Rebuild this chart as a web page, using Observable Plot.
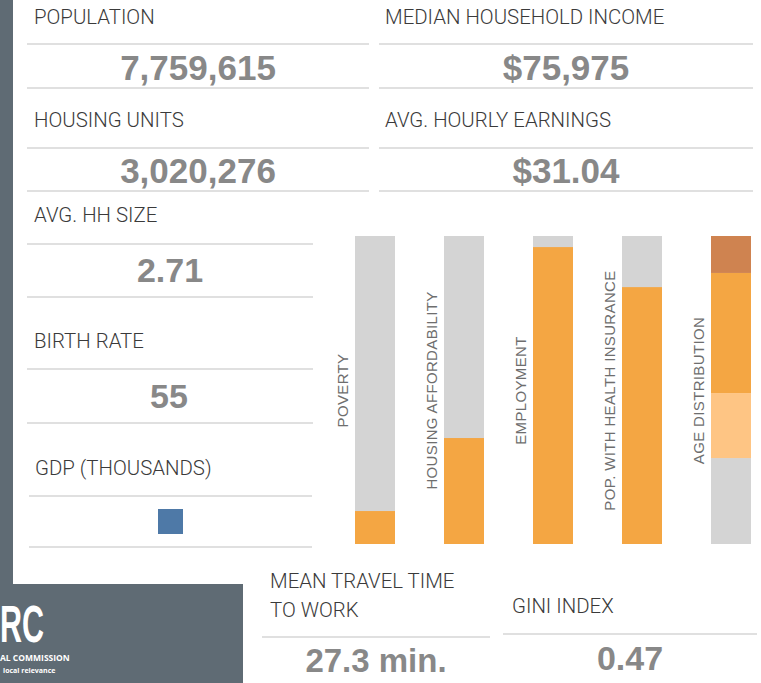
<!DOCTYPE html>
<html>
<head>
<meta charset="utf-8">
<script src="https://cdn.jsdelivr.net/npm/d3@7"></script>
<script src="https://cdn.jsdelivr.net/npm/@observablehq/plot@0.6"></script>
<style>
  body { margin: 0; background: #fff; }
  #dash { position: relative; width: 761px; height: 683px; overflow: hidden; background: #fff; }
  #dash > svg, #dash > div { position: absolute; }
</style>
</head>
<body>
<div id="dash"></div>
<script>
// ---------- data ----------
const kpiLabels = ["POPULATION", "MEDIAN HOUSEHOLD INCOME", "HOUSING UNITS", "AVG. HOURLY EARNINGS",
                   "AVG. HH SIZE", "BIRTH RATE", "GDP (THOUSANDS)", "MEAN TRAVEL TIME\nTO WORK", "GINI INDEX"];
const kpiValues = ["7,759,615", "$75,975", "3,020,276", "$31.04", "2.71", "55", null, "27.3 min.", "0.47"];
const gdpMarker = [1];

const indicators = ["POVERTY", "HOUSING AFFORDABILITY", "EMPLOYMENT", "POP. WITH HEALTH INSURANCE"];
const indicatorShares = [0.107, 0.344, 0.964, 0.834];

const ageCategory = "AGE DISTRIBUTION";
const ageBands = ["0–19", "20–34", "35–64", "65+"];
const ageShares = [0.279, 0.211, 0.390, 0.120];

const logoLines = ["RC", "AL COMMISSION", "local relevance"];

// ---------- styles (kept apart from data) ----------
const C = {
  panel: "#5f6b74", rule: "#d6d6d6", label: "#3a3a3a", value: "#888888",
  gray: "#d4d4d4", orange: "#f4a643", ageColors: ["#d4d4d4", "#fec584", "#f4a643", "#cf8350"], blue: "#4e79a7"
};
const labelFont = "'Roboto', sans-serif";
const valueFont = "'Liberation Sans', Arial, sans-serif";

const dash = d3.select("#dash");

// ---------- static layout (panel, rules, KPI text) ----------
const svg = dash.append("svg").attr("width", 761).attr("height", 683).style("left", 0).style("top", 0);

svg.append("rect").attr("x", 0).attr("y", 0).attr("width", 13).attr("height", 585).attr("fill", C.panel);
svg.append("rect").attr("x", 0).attr("y", 584).attr("width", 243).attr("height", 99).attr("fill", C.panel);
svg.append("text").text(logoLines[0]).attr("x", 0).attr("y", 642)
  .attr("font-family", valueFont).attr("font-weight", "bold").attr("font-size", 51)
  .attr("textLength", 44).attr("lengthAdjust", "spacingAndGlyphs").attr("fill", "#fff");
svg.append("text").text(logoLines[1]).attr("x", 0).attr("y", 661)
  .attr("font-family", "'Open Sans', sans-serif").attr("font-weight", "bold").attr("font-size", 8.5)
  .attr("fill", "#fff");
svg.append("text").text(logoLines[2]).attr("x", 3).attr("y", 673)
  .attr("font-family", "'Open Sans', sans-serif").attr("font-weight", "bold").attr("font-size", 7)
  .attr("fill", "#fff");

const rules = [
  [27, 369, 44], [27, 369, 88], [27, 369, 148], [27, 369, 191],
  [379, 753, 44], [379, 753, 88], [379, 753, 148], [379, 753, 191],
  [27, 313, 244], [27, 313, 297], [27, 313, 369], [27, 313, 423],
  [29, 312, 496], [29, 312, 547],
  [262, 490, 637], [503, 757, 634]
];
svg.selectAll("line.rule").data(rules).join("line")
  .attr("x1", d => d[0]).attr("x2", d => d[1]).attr("y1", d => d[2]).attr("y2", d => d[2])
  .attr("stroke", C.rule).attr("stroke-width", 1.6);

// label positions [x, baseline] and value positions [centerX, baseline, fontSize]
const labelPos = [[34, 24], [385, 24], [34, 127], [385, 127], [34, 222], [34, 348], [35, 475], [270, 588], [512, 613]];
const valuePos = [[198, 80, 35], [566, 80, 35], [198, 183, 35], [566, 183, 35], [170, 282, 34], [169, 408, 34], null, [376, 672, 33], [630, 670, 34]];

kpiLabels.forEach((lab, i) => {
  const t = svg.append("text").attr("x", labelPos[i][0]).attr("y", labelPos[i][1])
    .attr("font-family", labelFont).attr("font-weight", 300).attr("font-size", 20.4).attr("fill", C.label);
  lab.split("\n").forEach((line, j) => {
    t.append("tspan").attr("x", labelPos[i][0]).attr("dy", j ? 29 : 0).text(line);
  });
  if (kpiValues[i] != null) {
    const [vx, vy, fs] = valuePos[i];
    svg.append("text").text(kpiValues[i]).attr("x", vx).attr("y", vy).attr("text-anchor", "middle")
      .attr("font-family", valueFont).attr("font-weight", "bold").attr("font-size", fs).attr("fill", C.value);
  }
});

// ---------- GDP marker (Plot) ----------
const gdp = Plot.plot({
  width: 50, height: 50, margin: 0,
  x: {axis: null, domain: [0, 2]}, y: {axis: null, domain: [0, 2]},
  style: {background: "transparent"},
  marks: [Plot.dot(gdpMarker, {x: () => 1, y: () => 1, symbol: "square", r: 14.1, fill: C.blue, stroke: null})]
});
dash.append(() => gdp).style("left", "145px").style("top", "496px");

// ---------- indicator bars (Plot) ----------
const categories = [...indicators, ageCategory];
const indicatorRows = indicators.map((name, i) => ({name, share: indicatorShares[i]}));
const ageRows = ageBands.map((band, i) => ({name: ageCategory, band, share: ageShares[i]}));
const ageColor = d3.scaleOrdinal(ageBands, C.ageColors);

const bars = Plot.plot({
  width: 432, height: 330,
  marginTop: 11, marginBottom: 11, marginLeft: 0, marginRight: 0,
  style: {background: "transparent", overflow: "visible", letterSpacing: "0.35px"},
  x: {type: "band", domain: categories, range: [0, 448], paddingInner: 0.55, paddingOuter: 0.274, axis: null},
  y: {domain: [0, 1], axis: null},
  marks: [
    Plot.barY(indicatorRows, {x: "name", y: () => 1, fill: C.gray}),
    Plot.barY(indicatorRows, {x: "name", y: "share", fill: C.orange}),
    Plot.barY(ageRows, {x: "name", y: "share", fill: d => ageColor(d.band)}),
    Plot.text(categories, {
      x: d => d, frameAnchor: "middle", rotate: -90, dx: -32,
      fontSize: 15, fontFamily: "'Liberation Sans', Arial, sans-serif", fill: "#6e6e6e",
      text: d => d
    })
  ]
});
dash.append(() => bars).style("left", "329px").style("top", "225px");
</script>
</body>
</html>
